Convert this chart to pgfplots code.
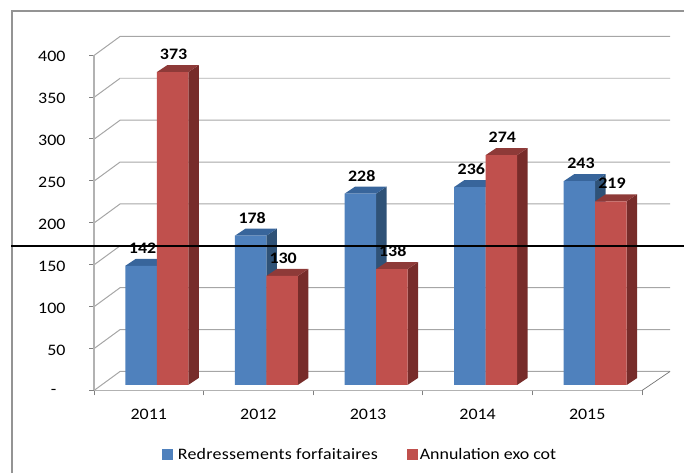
\documentclass[border=0pt]{standalone}
\usepackage{pgfplots}
\usepackage{pgfplotstable}
\usepackage{fontspec}
\setmainfont[FakeStretch=1.12]{Carlito}
\pgfplotsset{compat=1.18}

\definecolor{blueF}{HTML}{4F81BD}
\definecolor{blueS}{HTML}{2F5277}
\definecolor{blueT}{HTML}{38659B}
\definecolor{redF}{HTML}{C0504D}
\definecolor{redS}{HTML}{772C2A}
\definecolor{redT}{HTML}{8E3A38}
\definecolor{wall}{HTML}{A6A6A6}

\pgfplotstableread{
year blue red
1    142  373
2    178  130
3    228  138
4    236  274
5    243  219
}\data

% bar geometry in axis units: 109.6px per category, 0.8375px per unit of value
\def\barw{0.2874}
\def\depx{0.0958}
\def\depy{8.36}

% side and top faces of one bar: category, value, left edge offset, side colour, top colour
\newcommand\depthfaces[5]{%
  \pgfmathsetmacro\xa{#1+#3}%
  \pgfmathsetmacro\xb{\xa+\barw}%
  \pgfmathsetmacro\xc{\xb+\depx}%
  \pgfmathsetmacro\xd{\xa+\depx}%
  \pgfmathsetmacro\yt{#2+\depy}%
  \edef\tmp{\noexpand\addplot[fill=#4,draw=none,forget plot] coordinates
    {(\xb,0) (\xc,\depy) (\xc,\yt) (\xb,#2)};
    \noexpand\addplot[fill=#5,draw=none,forget plot] coordinates
    {(\xa,#2) (\xb,#2) (\xc,\yt) (\xd,\yt)};}%
  \tmp
}

\pgfplotsset{
  front bar/.style={ybar,bar width=31.5pt,draw=none,
    nodes near coords,
    every node near coord/.append style={font=\fontsize{16}{16}\selectfont\bfseries,
      anchor=center,yshift=18pt}},
}

\begin{document}
\begin{tikzpicture}
\useasboundingbox (0,0) rectangle (684pt,473pt);
\begin{scope}[x=1pt,y=-1pt,yshift=473pt]
  % chart frame
  \draw[line width=2.4pt,black!42] (12,473) -- (12,11) -- (684,11);
  % walls and floor
  \foreach \i in {0,...,8}{
    \pgfmathsetmacro\yy{390.5-41.875*\i}
    \draw[wall,line width=1pt] (94,\yy) -- (120,\yy-19) -- (670,\yy-19);
  }
  \draw[black!20,line width=1.6pt] (120,78.4) -- (670,78.4);
  \draw[black!55,line width=.7pt] (642,390.5) -- (670,371.5);
\end{scope}
\begin{axis}[
    at={(94pt,82.5pt)},anchor=south west,
    scale only axis,width=548pt,height=335.5pt,
    clip=false,
    /pgf/number format/assume math mode=true,
    xmin=0.5,xmax=5.5,ymin=-6.6,ymax=393.4,
    axis y line*=left,axis x line*=bottom,
    axis line style={draw=black!30,line width=1.2pt,-},
    xtick={1,2,3,4,5},
    xticklabels={2011,2012,2013,2014,2015},
    minor xtick={0.5,1.5,2.5,3.5,4.5,5.5},
    ytick={-6.6,43.4,93.4,143.4,193.4,243.4,293.4,343.4,393.4},
    yticklabels={-\rule{9pt}{0pt},50,100,150,200,250,300,350,400},
    major x tick style={draw=none},
    minor tick style={draw=black!50,line width=.8pt},
    major y tick style={draw=black!50,line width=.8pt},
    tick align=outside,
    major tick length=5pt,minor tick length=5pt,
    xticklabel style={yshift=-10pt},
    yticklabel style={xshift=-20pt,yshift=-1.5pt},
    tick label style={font=\fontsize{16}{16}\selectfont},
    legend columns=2,
    legend style={at={(0.4855,-0.192)},anchor=center,draw=none,fill=none,
      font=\fontsize{16}{16}\selectfont},
    legend image code/.code={\fill[#1] (0pt,-5.5pt) rectangle (11pt,5.5pt);},
]
\pgfplotsforeachungrouped \r in {0,...,4}{
  \pgfplotstablegetelem{\r}{blue}\of\data \let\vb\pgfplotsretval
  \pgfmathsetmacro\cat{\r+1}
  \depthfaces{\cat}{\vb}{-0.2144}{blueS}{blueT}
}
\addplot[front bar,fill=blueF,bar shift=-7.75pt,
  every node near coord/.append style={xshift=-6.25pt}] table[x=year,y=blue] {\data};
\addlegendentry{\rule{3pt}{0pt}\addfontfeatures{LetterSpace=1.5}Redressements forfaitaires\rule{27pt}{0pt}}
\pgfplotsforeachungrouped \r in {0,...,4}{
  \pgfplotstablegetelem{\r}{red}\of\data \let\vr\pgfplotsretval
  \pgfmathsetmacro\cat{\r+1}
  \depthfaces{\cat}{\vr}{0.073}{redS}{redT}
}
\addplot[front bar,fill=redF,bar shift=23.75pt,
  every node near coord/.append style={xshift=24.75pt}] table[x=year,y=red] {\data};
\addlegendentry{Annulation exo cot}
\end{axis}
\begin{scope}[x=1pt,y=-1pt,yshift=473pt]
  \draw[black,line width=1.4pt] (11,246) -- (684,246);
\end{scope}
\end{tikzpicture}
\end{document}
